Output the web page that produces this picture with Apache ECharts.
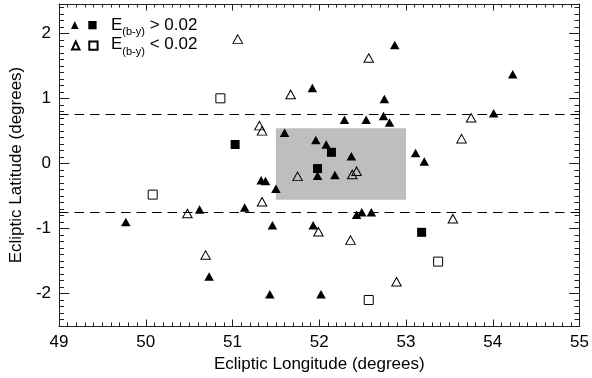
<!DOCTYPE html>
<html>
<head>
<meta charset="utf-8">
<script src="https://cdn.jsdelivr.net/npm/echarts@6/dist/echarts.min.js"></script>
<style>
  html, body { margin: 0; padding: 0; background: #fff; }
  #chart { width: 592px; height: 378px; }
</style>
</head>
<body>
<div id="chart"></div>
<script>
// Reddening sample: ecliptic coordinates (longitude, latitude) in degrees
const hiTriangles = [
  [52.87, 1.82], [51.92, 1.16], [52.75, 0.99], [52.74, 0.73], [52.81, 0.63],
  [52.29, 0.67], [52.54, 0.67], [51.60, 0.47], [51.96, 0.36], [52.08, 0.29],
  [52.37, 0.11], [51.98, -0.19], [52.18, -0.18], [51.33, -0.26], [51.38, -0.27],
  [51.50, -0.39], [51.14, -0.68], [52.43, -0.79], [52.49, -0.75], [52.60, -0.75],
  [51.46, -0.95], [51.93, -0.95], [51.43, -2.01], [52.02, -2.01], [49.77, -0.90],
  [50.62, -0.71], [50.73, -1.74], [54.23, 1.37], [54.01, 0.77], [53.11, 0.16],
  [53.21, 0.03]
];
const hiSquares = [
  [51.03, 0.29], [52.14, 0.17], [51.98, -0.08], [53.18, -1.06]
];
const loTriangles = [
  [51.06, 1.91], [52.57, 1.62], [51.67, 1.06], [51.31, 0.58], [51.34, 0.50],
  [51.75, -0.20], [52.38, -0.17], [52.43, -0.12], [51.34, -0.59], [51.99, -1.05],
  [52.36, -1.18], [52.89, -1.82], [50.48, -0.77], [50.69, -1.41], [53.75, 0.70],
  [53.64, 0.38], [53.54, -0.85]
];
const loSquares = [
  [50.86, 1.00], [50.08, -0.48], [52.57, -2.10], [53.37, -1.51]
];

// Field boundaries
const boxLon = [51.5, 53.0];
const boxLat = [-0.56, 0.54];
const bandLat = [-0.75, 0.75];

// Axis ranges and tick values
const lonRange = [49, 55];
const latRange = [-2.5, 2.45];
const lonStep = 1;
const latMajorTicks = [-2, -1, 0, 1, 2];
const latMinorTicks = [];
for (let k = -24; k <= 24; k++) {
  if (k % 10 !== 0) latMinorTicks.push(k / 10);
}

const FONT = 'Liberation Sans, Arial, Helvetica, sans-serif';
const AXIS_COLOR = '#222';

const chart = echarts.init(document.getElementById('chart'), null, { renderer: 'canvas' });

function xAxisDef(position, showLabels) {
  return {
    type: 'value', position: position,
    min: lonRange[0], max: lonRange[1], interval: lonStep,
    axisLine: { show: true, onZero: false, lineStyle: { color: AXIS_COLOR, width: 1 } },
    axisTick: { show: true, inside: true, length: 6.5, lineStyle: { color: AXIS_COLOR } },
    minorTick: { show: true, splitNumber: 10, length: 3.5, lineStyle: { color: AXIS_COLOR } },
    splitLine: { show: false },
    axisLabel: { show: showLabels, margin: 8, fontSize: 17, fontFamily: FONT, color: '#000' },
    name: showLabels ? 'Ecliptic Longitude (degrees)' : '',
    nameLocation: 'middle', nameGap: 28,
    nameTextStyle: { fontSize: 17, fontFamily: FONT, color: '#000' }
  };
}

function yAxisDef(position, ticks, len, showLine, showLabels) {
  return {
    type: 'value', position: position,
    min: latRange[0], max: latRange[1],
    axisLine: { show: showLine, onZero: false, lineStyle: { color: AXIS_COLOR, width: 1 } },
    axisTick: { show: true, inside: true, length: len, customValues: ticks, lineStyle: { color: AXIS_COLOR } },
    splitLine: { show: false },
    axisLabel: {
      show: showLabels, customValues: latMajorTicks, margin: 8,
      fontSize: 17, fontFamily: FONT, color: '#000'
    },
    name: showLabels ? 'Ecliptic Latitude (degrees)' : '',
    nameLocation: 'middle', nameGap: 32,
    nameTextStyle: { fontSize: 17, fontFamily: FONT, color: '#000' }
  };
}

const triSize = [9.5, 8.5];
const sqSize = 9;

function scatter(name, data, symbol, size, filled) {
  return {
    type: 'scatter', name: name, data: data,
    xAxisIndex: 0, yAxisIndex: 0,
    symbol: symbol, symbolSize: size, z: 5,
    itemStyle: filled
      ? { color: '#000', borderWidth: 0, opacity: 1 }
      : { color: 'rgba(0,0,0,0)', borderColor: '#000', borderWidth: 1, opacity: 1 },
    emphasis: { disabled: true },
    silent: true
  };
}

function legendIcon(name, icon, left, top, w, h) {
  return {
    data: [{ name: name, icon: icon }],
    left: left, top: top, padding: 0,
    itemWidth: w, itemHeight: h,
    selectedMode: false,
    formatter: function () { return ''; },
    textStyle: { fontSize: 1 }
  };
}

const richLabel = {
  e: { fontSize: 17, fontFamily: FONT, lineHeight: 18, verticalAlign: 'top', fill: '#000' },
  s: { fontSize: 11, fontFamily: FONT, lineHeight: 11, verticalAlign: 'top', padding: [10, 0, 0, 0], fill: '#000' }
};

chart.setOption({
  animation: false,
  backgroundColor: '#fff',
  grid: { left: 59, right: 11, top: 4, bottom: 52, containLabel: false },
  xAxis: [xAxisDef('bottom', true), xAxisDef('top', false)],
  yAxis: [
    yAxisDef('left', latMajorTicks, 10.4, true, true),
    yAxisDef('left', latMinorTicks, 5, false, false),
    yAxisDef('right', latMajorTicks, 10.4, true, false),
    yAxisDef('right', latMinorTicks, 5, false, false)
  ],
  legend: [
    legendIcon('hiTri', 'triangle', 71, 21, 7.5, 8),
    legendIcon('hiSq', 'rect', 88.3, 21, 8.3, 8.3),
    legendIcon('loTri', 'triangle', 71, 40.5, 7.5, 8),
    legendIcon('loSq', 'rect', 88.3, 40.5, 8.3, 8.3)
  ],
  graphic: [
    {
      type: 'text', left: 111, top: 16.5, silent: true,
      style: { text: '{e|E}{s|(b-y)}{e| > 0.02}', rich: richLabel }
    },
    {
      type: 'text', left: 111, top: 36, silent: true,
      style: { text: '{e|E}{s|(b-y)}{e| < 0.02}', rich: richLabel }
    }
  ],
  series: [
    {
      type: 'scatter', name: 'field', data: [], z: 1, silent: true,
      xAxisIndex: 0, yAxisIndex: 0,
      markArea: {
        silent: true,
        itemStyle: { color: '#bebebe', opacity: 1 },
        label: { show: false },
        data: [[{ coord: [boxLon[0], boxLat[1]] }, { coord: [boxLon[1], boxLat[0]] }]]
      },
      markLine: {
        silent: true, symbol: 'none',
        label: { show: false },
        lineStyle: { color: '#000', width: 1, type: [9.5, 6] },
        data: bandLat.map(v => ({ yAxis: v }))
      }
    },
    scatter('hiTri', hiTriangles, 'triangle', triSize, true),
    scatter('hiSq', hiSquares, 'rect', sqSize, true),
    scatter('loTri', loTriangles, 'triangle', triSize, false),
    scatter('loSq', loSquares, 'rect', sqSize, false)
  ]
});
</script>
</body>
</html>
